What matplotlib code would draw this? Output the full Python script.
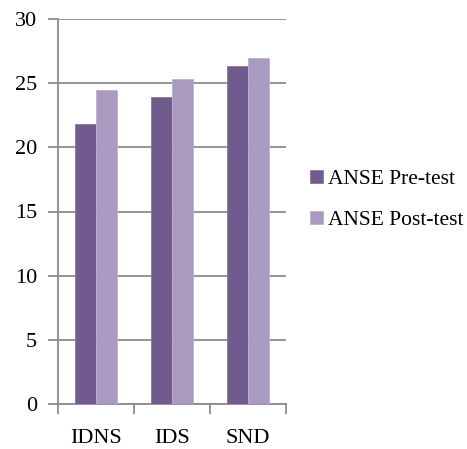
import matplotlib
matplotlib.use("Agg")
import matplotlib.pyplot as plt
import numpy as np

categories = ["IDNS", "IDS", "SND"]
pre_test = [21.8, 23.9, 26.3]
post_test = [24.5, 25.3, 27.0]
series_labels = ["ANSE Pre-test", "ANSE Post-test"]
y_ticks = [0, 5, 10, 15, 20, 25, 30]

plt.rcParams["font.family"] = ["Liberation Serif", "DejaVu Serif"]

fig = plt.figure(figsize=(4.67, 4.49), dpi=100)
ax = fig.add_axes([58 / 467, 1 - 404 / 449, 228 / 467, 385 / 449])

grid_col = "#8c8c8c"
x = np.arange(len(categories))
w = 0.276
b1 = ax.bar(x - w / 2, pre_test, w, color="#715a8e", edgecolor="#8a76a4", linewidth=0.6,
            label=series_labels[0], zorder=3)
b2 = ax.bar(x + w / 2, post_test, w, color="#a99bbf", edgecolor="#bdb1cf", linewidth=0.6,
            label=series_labels[1], zorder=3)

ax.set_xlim(-0.5, len(categories) - 0.5)
ax.set_ylim(0, 30)
ax.set_yticks(y_ticks)
ax.set_yticklabels([str(v) for v in y_ticks], fontsize=16)
ax.yaxis.grid(True, color=grid_col, linewidth=1.3, zorder=0)
ax.tick_params(axis="y", length=7, color=grid_col, width=1.3, pad=8)

# category labels sit between the outward tick marks at group boundaries
ax.set_xticks(np.arange(-0.5, len(categories), 1.0))
ax.set_xticklabels([""] * (len(categories) + 1))
ax.set_xticks(x, minor=True)
ax.set_xticklabels(categories, minor=True, fontsize=16)
ax.tick_params(axis="x", which="major", length=7, color=grid_col, width=1.3)
ax.tick_params(axis="x", which="minor", length=0, pad=18)

for s in ["top", "right"]:
    ax.spines[s].set_visible(False)
for s in ["left", "bottom"]:
    ax.spines[s].set_color(grid_col)
    ax.spines[s].set_linewidth(1.3)

fig.legend(handles=[b1, b2], labels=series_labels, loc="center left",
           bbox_to_anchor=(301 / 467, 1 - 200 / 449), frameon=False, fontsize=15.5,
           handlelength=0.6, handleheight=0.6, handletextpad=0.25, labelspacing=1.0,
           borderaxespad=0.0)

fig.savefig("out.png", dpi=100)
